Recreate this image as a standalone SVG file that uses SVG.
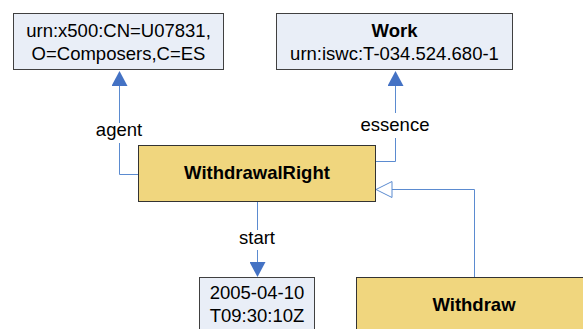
<svg xmlns="http://www.w3.org/2000/svg" width="583" height="329" viewBox="0 0 583 329">
<style>
.val{fill:#E9EEF7;stroke:#404040;stroke-width:1}
.cls{fill:#F0D67E;stroke:#333333;stroke-width:1}
text{font-family:"Liberation Sans",Arial,sans-serif;font-size:18.5px;fill:#000;text-anchor:middle}
.b{font-weight:bold}
.ln{fill:none;stroke:#5B8BD0;stroke-width:1}
</style>
<defs>
<marker id="arr" markerUnits="userSpaceOnUse" viewBox="0 0 15 16" refX="0" refY="8" markerWidth="15" markerHeight="16" orient="auto">
<path d="M0,0 L15,8 L0,16 z" fill="#4472C4"/>
</marker>
<marker id="tri" markerUnits="userSpaceOnUse" viewBox="-1 -1 18 18" refX="0" refY="8" markerWidth="18" markerHeight="18" orient="auto">
<path d="M0,0 L16,8 L0,16 z" fill="#FFFFFF" stroke="#5B8BD0" stroke-width="1"/>
</marker>
</defs>
<g id="connectors">
<path class="ln" d="M138,174.5 H119.5 V143"/>
<path class="ln" d="M119.5,123 V86" marker-end="url(#arr)"/>
<text x="119" y="136">agent</text>
<path class="ln" d="M376,161.5 H395.5 V138"/>
<path class="ln" d="M395.5,113 V86" marker-end="url(#arr)"/>
<text x="395" y="131">essence</text>
<path class="ln" d="M257.5,202 V230"/>
<path class="ln" d="M257.5,250 V262" marker-end="url(#arr)"/>
<text x="257" y="244">start</text>
<path class="ln" d="M474.5,277 V189.5 H392" marker-end="url(#tri)"/>
</g>
<g id="agent-node">
<rect class="val" x="13.5" y="13.5" width="210" height="56"/>
<text x="118.5" y="37">urn:x500:CN=U07831,</text>
<text x="118.5" y="60">O=Composers,C=ES</text>
</g>
<g id="work-node">
<rect class="val" x="276.5" y="13.5" width="236" height="56"/>
<text class="b" x="394.5" y="37">Work</text>
<text x="394.5" y="60">urn:iswc:T-034.524.680-1</text>
</g>
<g id="withdrawalright-node">
<rect class="cls" x="138.5" y="145.5" width="237" height="56"/>
<text class="b" x="257" y="179">WithdrawalRight</text>
</g>
<g id="date-node">
<rect class="val" x="199.5" y="277.5" width="115" height="60"/>
<text x="257" y="299">2005-04-10</text>
<text x="257" y="322">T09:30:10Z</text>
</g>
<g id="withdraw-node">
<rect class="cls" x="356.5" y="277.5" width="240" height="60"/>
<text class="b" x="474" y="311">Withdraw</text>
</g>
</svg>
